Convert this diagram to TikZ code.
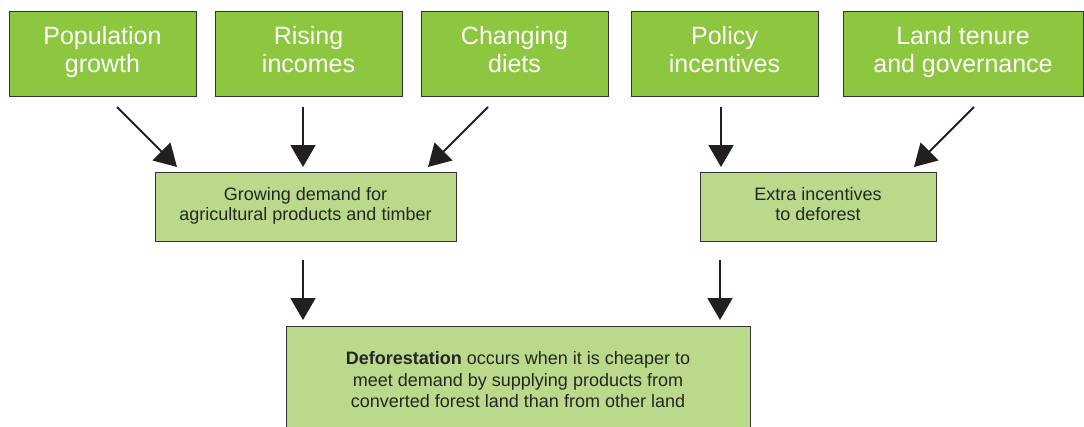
\documentclass[tikz,border=0pt]{standalone}
\usepackage{fontspec}
\setmainfont{Liberation Sans}
\usetikzlibrary{arrows.meta,positioning}

\definecolor{driverGreen}{HTML}{8DC63F}
\definecolor{paleGreen}{HTML}{BAD98A}
\definecolor{edgeGray}{HTML}{333333}
\definecolor{arrowBlack}{HTML}{231F20}

\begin{document}
\begin{tikzpicture}[
  x=1pt,y=1pt,
  every node/.style={align=center,outer sep=0pt,inner sep=0pt,
    execute at begin node=\strut,execute at end node=\strut},
  driver/.style={draw=edgeGray,line width=0.9pt,fill=driverGreen,text=white,
    minimum width=187pt,minimum height=85pt,font=\fontsize{25}{28}\selectfont},
  effect/.style={draw=edgeGray,line width=0.9pt,fill=paleGreen,text=black!85,
    minimum height=69pt,font=\fontsize{18}{20}\selectfont},
  midbox/.style={effect,execute at begin node={\rule{0pt}{19pt}}},
  arr/.style={-{Triangle[length=22pt,width=25pt]},line width=2pt,draw=arrowBlack,fill=arrowBlack}
]
\clip (0,0) rectangle (1084,-426);

% ============================================================
% TOP ROW: underlying drivers
% ============================================================

\node[driver] (POP) at (102.5,-53.5) {Population\\growth};
\node[driver,right=19pt of POP] (RIS) {Rising\\incomes};
\node[driver,right=19pt of RIS] (CHD) {Changing\\diets};
\node[driver,right=23pt of CHD] (POL) {Policy\\incentives};
\node[driver,right=25pt of POL,minimum width=240pt] (LAN) {Land tenure\\and governance};

% ============================================================
% MIDDLE ROW: demand and incentives
% ============================================================

\node[midbox,minimum width=301pt] (GD) at (305.5,-206.5) {Growing demand for\\agricultural products and timber};
\node[midbox,minimum width=236pt,right=244pt of GD] (EXT) {Extra incentives\\to deforest};

\draw[arr] ([xshift=14.5pt,yshift=-11pt]POP.south) -- ([xshift=22pt,yshift=5pt]GD.north west);
\draw[arr] ([xshift=-5.5pt,yshift=-11pt]RIS.south) -- ([xshift=-2.5pt,yshift=5pt]GD.north);
\draw[arr] ([xshift=-26.5pt,yshift=-11pt]CHD.south) -- ([xshift=-28pt,yshift=5pt]GD.north east);
\draw[arr] ([xshift=-3.5pt,yshift=-11pt]POL.south) -- ([xshift=21pt,yshift=5pt]EXT.north west);
\draw[arr] ([xshift=11pt,yshift=-11pt]LAN.south) -- ([xshift=-22pt,yshift=5pt]EXT.north east);

% ============================================================
% BOTTOM: outcome
% ============================================================

\node[effect,minimum width=464pt,minimum height=114pt,font=\fontsize{18}{21.7}\selectfont,
  below=85pt of GD,xshift=212.5pt] (DEF) {\textbf{Deforestation} occurs when it is cheaper to\\meet demand by supplying products from\\converted forest land than from other land};

\draw[arr] ([xshift=-2.5pt,yshift=-19pt]GD.south) -- ([xshift=17pt,yshift=6pt]DEF.north west);
\draw[arr] ([xshift=20pt,yshift=-19pt]EXT.south west) -- ([xshift=-30pt,yshift=6pt]DEF.north east);

\end{tikzpicture}
\end{document}
